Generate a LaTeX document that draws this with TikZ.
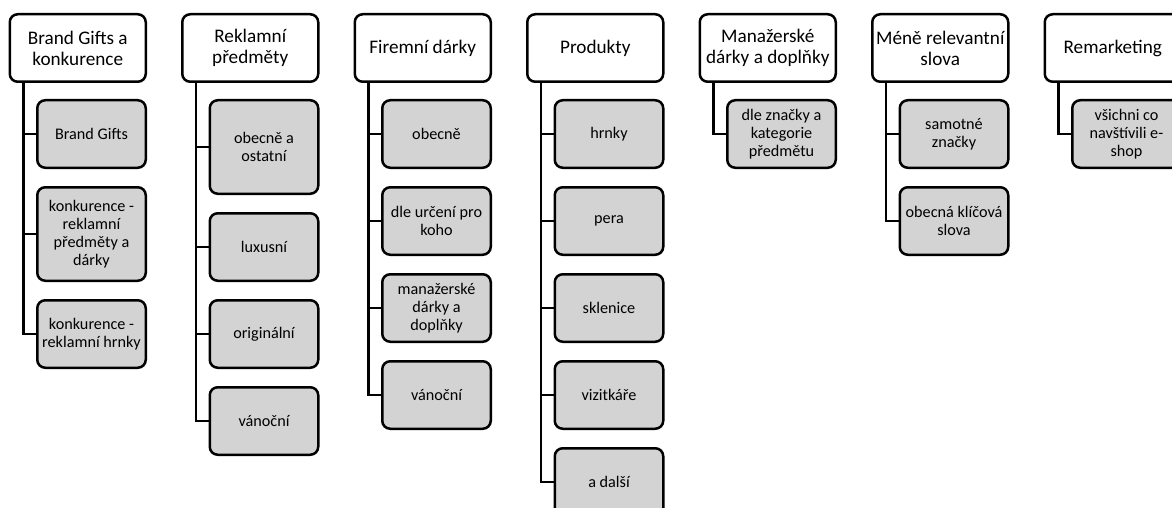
\documentclass[tikz,border=0pt]{standalone}
\usepackage{fontspec}
\setmainfont{Carlito}
\usetikzlibrary{positioning}
\definecolor{sagray}{RGB}{211, 211, 211}
\definecolor{saline}{RGB}{0, 0, 0}

\begin{document}
\begin{tikzpicture}[
  node distance=17pt,
  catbox/.style={rectangle, rounded corners=8pt, draw=saline, fill=white,
               minimum height=67.5pt, minimum width=136pt, align=center,
               font=\fontsize{19.2}{21}\selectfont, line width=2.5pt, inner sep=2pt},
  subbox/.style={rectangle, rounded corners=8pt, draw=saline, fill=sagray,
               minimum height=67.5pt, minimum width=108.5pt, align=center,
               font=\fontsize{16.2}{18}\selectfont, line width=2.5pt, inner sep=2pt},
  tallbox/.style={minimum height=93.5pt},
  link/.style={line width=2.5pt, color=saline},
]
  \useasboundingbox (0,0) rectangle (1172pt,-508pt);
  \clip (0,0) rectangle (1172pt,-508pt);

  % Brand Gifts
  \node[catbox, anchor=north west] (brand) at (8.5pt,-13pt) {Brand Gifts a\\konkurence};
  \node[subbox, below left=16pt and 0pt of brand.south east] (brand1) {Brand Gifts};
  \node[subbox, tallbox, below=of brand1] (brand2) {konkurence -\\reklamní\\předměty a\\dárky};
  \node[subbox, below=of brand2] (brand3) {konkurence -\\reklamní hrnky};

  % Reklamni predmety
  \node[catbox, right=34pt of brand] (rekl) {Reklamní\\předměty};
  \node[subbox, tallbox, below left=16pt and 0pt of rekl.south east] (rekl1) {obecně a\\ostatní};
  \node[subbox, below=of rekl1] (rekl2) {luxusní};
  \node[subbox, below=of rekl2] (rekl3) {originální};
  \node[subbox, below=of rekl3] (rekl4) {vánoční};

  % Firemni darky
  \node[catbox, right=34pt of rekl] (firm) {Firemní dárky};
  \node[subbox, below left=16pt and 0pt of firm.south east] (firm1) {obecně};
  \node[subbox, below=of firm1] (firm2) {dle určení pro\\koho};
  \node[subbox, below=of firm2] (firm3) {manažerské\\dárky a\\doplňky};
  \node[subbox, below=of firm3] (firm4) {vánoční};

  % Produkty
  \node[catbox, right=34pt of firm] (prod) {Produkty};
  \node[subbox, below left=16pt and 0pt of prod.south east] (prod1) {hrnky};
  \node[subbox, below=of prod1] (prod2) {pera};
  \node[subbox, below=of prod2] (prod3) {sklenice};
  \node[subbox, below=of prod3] (prod4) {vizitkáře};
  \node[subbox, below=of prod4] (prod5) {a další};

  % Manazerske darky
  \node[catbox, right=34pt of prod] (mgr) {Manažerské\\dárky a doplňky};
  \node[subbox, below left=16pt and 0pt of mgr.south east] (mgr1) {dle značky a\\kategorie\\předmětu};

  % Mene relevantni slova
  \node[catbox, right=34pt of mgr] (less) {Méně relevantní\\slova};
  \node[subbox, below left=16pt and 0pt of less.south east] (less1) {samotné\\značky};
  \node[subbox, below=of less1] (less2) {obecná klíčová\\slova};

  % Remarketing
  \node[catbox, right=34pt of less] (remk) {Remarketing};
  \node[subbox, below left=16pt and 0pt of remk.south east] (remk1) {všichni co\\navštívili e-\\shop};

  % Links
  \draw[link] ([xshift=15pt]brand.south west) |- (brand1.west);
  \draw[link] ([xshift=15pt]brand.south west) |- (brand2.west);
  \draw[link] ([xshift=15pt]brand.south west) |- (brand3.west);
  \draw[link] ([xshift=15pt]rekl.south west) |- (rekl1.west);
  \draw[link] ([xshift=15pt]rekl.south west) |- (rekl2.west);
  \draw[link] ([xshift=15pt]rekl.south west) |- (rekl3.west);
  \draw[link] ([xshift=15pt]rekl.south west) |- (rekl4.west);
  \draw[link] ([xshift=15pt]firm.south west) |- (firm1.west);
  \draw[link] ([xshift=15pt]firm.south west) |- (firm2.west);
  \draw[link] ([xshift=15pt]firm.south west) |- (firm3.west);
  \draw[link] ([xshift=15pt]firm.south west) |- (firm4.west);
  \draw[link] ([xshift=15pt]prod.south west) |- (prod1.west);
  \draw[link] ([xshift=15pt]prod.south west) |- (prod2.west);
  \draw[link] ([xshift=15pt]prod.south west) |- (prod3.west);
  \draw[link] ([xshift=15pt]prod.south west) |- (prod4.west);
  \draw[link] ([xshift=15pt]prod.south west) |- (prod5.west);
  \draw[link] ([xshift=15pt]mgr.south west) |- (mgr1.west);
  \draw[link] ([xshift=15pt]less.south west) |- (less1.west);
  \draw[link] ([xshift=15pt]less.south west) |- (less2.west);
  \draw[link] ([xshift=15pt]remk.south west) |- (remk1.west);
\end{tikzpicture}
\end{document}
